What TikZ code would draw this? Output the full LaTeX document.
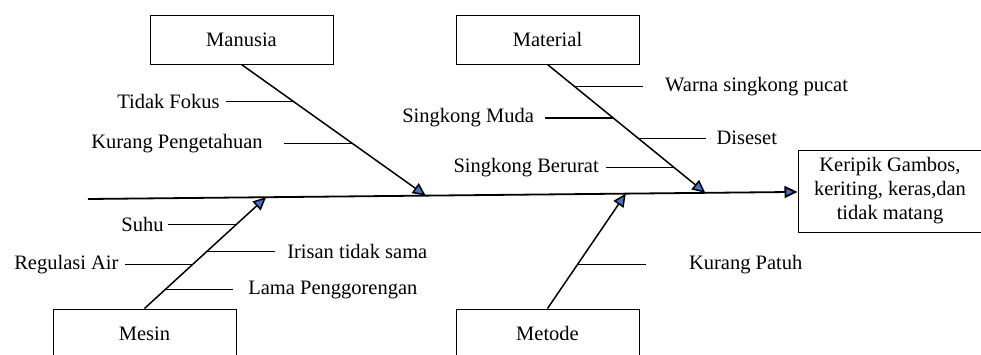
\documentclass[tikz,border=0pt]{standalone}
\usepackage{fontspec}
\setmainfont{Liberation Serif}
\usetikzlibrary{arrows.meta,positioning}

\definecolor{tipblue}{RGB}{68,114,196}

\tikzstyle{category}=[draw, line width=0.5pt, minimum width=91.5pt, minimum height=24.5pt,
                      inner sep=0pt, font=\fontsize{10.25}{12}\selectfont]
\tikzstyle{effectbox}=[draw, line width=0.5pt, minimum width=92pt, minimum height=41pt,
                       inner sep=0pt, align=center, font=\fontsize{10.25}{12}\selectfont]
\tikzstyle{cause}=[inner sep=0pt, font=\fontsize{10.25}{12}\selectfont]
\tikzstyle{spine} = [draw, line width=0.9pt, -{Triangle[fill=tipblue, length=6.5pt, width=6pt]}]
\tikzstyle{bone} = [draw, line width=0.75pt, -{Triangle[fill=tipblue, length=6.5pt, width=6pt]}]
\tikzstyle{twig} = [draw, line width=0.6pt, -]

\begin{document}
\begin{tikzpicture}[x=0.5pt, y=-0.5pt]
    \useasboundingbox (0,0) rectangle (981,354);
    \clip (0,0) rectangle (981,354);
    % First we draw the category boxes and the effect
    \foreach \pos/\name/\txt in {{(241.5,39.5)/manusia/Manusia}, {(547.5,39.5)/material/Material},
    	{(144.5,333.5)/mesin/Mesin}, {(547.5,333.5)/metode/Metode}}
      \node[category] (\name) at \pos {\txt};
    \node[effectbox] (effect) at (890,191) {Keripik Gambos,\\ keriting, keras,dan\\ tidak matang};
    % The spine and the points where the bones meet it
    \coordinate (tail) at (88,199);
    \path[spine] (tail) -- coordinate[pos=0.251] (mesin-tip) coordinate[pos=0.476] (manusia-tip)
    	coordinate[pos=0.758] (metode-tip) coordinate[pos=0.870] (material-tip) (effect);
    % Bones from the boxes to the spine
    \foreach \source/\dest in {manusia/manusia-tip, material/material-tip}
      \path[bone] (\source.south) -- (\dest);
    \foreach \source/\dest in {mesin/mesin-tip, metode/metode-tip}
      \path[bone] (\source.north) -- (\dest);
    % Roots of the causes on the bones
    \path (manusia.south) -- (manusia-tip) coordinate[pos=0.285] (m1) coordinate[pos=0.6] (m2);
    \path (material.south) -- (material-tip) coordinate[pos=0.173] (t1) coordinate[pos=0.417] (t2)
    	coordinate[pos=0.575] (t3) coordinate[pos=0.803] (t4);
    \path (mesin.north) -- (mesin-tip) coordinate[pos=0.752] (s1) coordinate[pos=0.513] (s2)
    	coordinate[pos=0.398] (s3) coordinate[pos=0.168] (s4);
    \path (metode.north) -- (metode-tip) coordinate[pos=0.385] (d1);
    % Causes written left of the bone
    \foreach \root/\gap/\name/\txt in {m1/3pt/fokus/Tidak Fokus, m2/10.5pt/pengetahuan/Kurang Pengetahuan,
    	t2/5.5pt/muda/Singkong Muda, t4/3.5pt/berurat/Singkong Berurat,
    	s1/2pt/suhu/Suhu, s3/3pt/regulasi/Regulasi Air}
    {
      \coordinate[left=34pt of \root] (\root-end);
      \node[cause, left=\gap of \root-end] (\name) {\txt};
      \path[twig] (\root) -- (\root-end);
    }
    % Causes written right of the bone
    \foreach \root/\gap/\name/\txt in {t1/11pt/warna/Warna singkong pucat, t3/5pt/diseset/Diseset,
    	s2/6pt/irisan/Irisan tidak sama, s4/7.5pt/lama/Lama Penggorengan,
    	d1/21.5pt/patuh/Kurang Patuh}
    {
      \coordinate[right=34pt of \root] (\root-end);
      \node[cause, right=\gap of \root-end] (\name) {\txt};
      \path[twig] (\root) -- (\root-end);
    }
\end{tikzpicture}
\end{document}
